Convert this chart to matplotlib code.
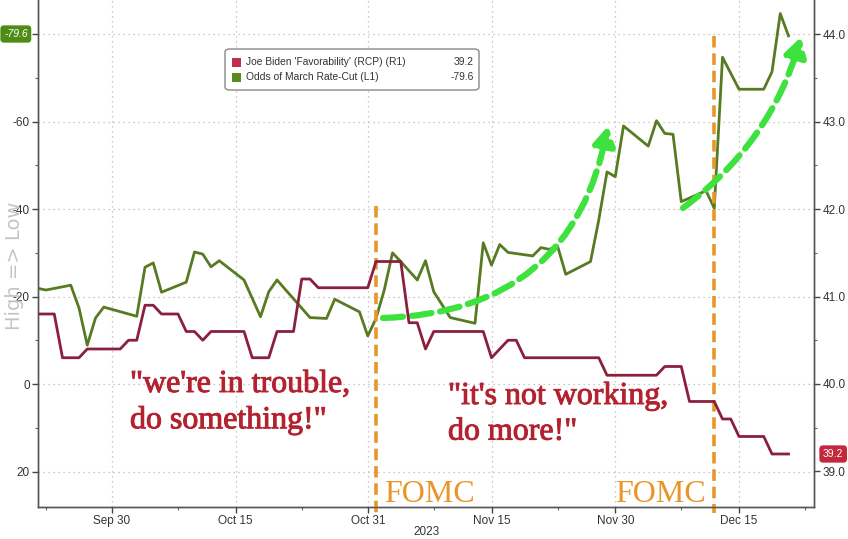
import matplotlib
matplotlib.use("Agg")
import matplotlib.pyplot as plt
import matplotlib.dates as mdates
import matplotlib.patheffects as pe
from matplotlib.patches import FancyArrowPatch, FancyBboxPatch, Rectangle
from matplotlib.ticker import FixedLocator, FuncFormatter
import numpy as np
import pandas as pd

# ---------------- data ----------------
green_dates = ['2023-09-21', '2023-09-22', '2023-09-25', '2023-09-26', '2023-09-27', '2023-09-28',
               '2023-09-29', '2023-10-03', '2023-10-04', '2023-10-05', '2023-10-06', '2023-10-09',
               '2023-10-10', '2023-10-11', '2023-10-12', '2023-10-13', '2023-10-16', '2023-10-18',
               '2023-10-19', '2023-10-20', '2023-10-24', '2023-10-26', '2023-10-27', '2023-10-30',
               '2023-10-31', '2023-11-01', '2023-11-02', '2023-11-03', '2023-11-04', '2023-11-06',
               '2023-11-07', '2023-11-08', '2023-11-10', '2023-11-13', '2023-11-14', '2023-11-15',
               '2023-11-16', '2023-11-17', '2023-11-20', '2023-11-21', '2023-11-22', '2023-11-23',
               '2023-11-24', '2023-11-27', '2023-11-28', '2023-11-29', '2023-11-30', '2023-12-01',
               '2023-12-04', '2023-12-05', '2023-12-06', '2023-12-07', '2023-12-08', '2023-12-11',
               '2023-12-12', '2023-12-13', '2023-12-15', '2023-12-18', '2023-12-19', '2023-12-20',
               '2023-12-21']
green_vals = [-21.9, -21.5, -22.6, -17.4, -8.9, -15.1,
              -17.6, -15.5, -26.7, -27.7, -21.0, -23.3,
              -30.2, -29.7, -26.8, -28.2, -23.8, -15.4,
              -21.1, -23.8, -15.2, -15.0, -19.4, -16.5,
              -11.0, -15.0, -21.5, -30.0, -28.0, -23.8,
              -28.2, -21.1, -15.2, -13.9, -32.3, -27.2,
              -31.9, -30.1, -29.3, -31.2, -30.8, -31.6,
              -25.1, -28.0, -37.5, -48.5, -47.4, -59.0,
              -54.4, -60.2, -57.3, -57.1, -41.7, -44.2,
              -40.2, -74.7, -67.4, -67.4, -71.4, -84.7,
              -79.6]

red_dates = ['2023-09-21', '2023-09-23', '2023-09-24', '2023-09-26', '2023-09-27', '2023-10-01',
             '2023-10-02', '2023-10-03', '2023-10-04', '2023-10-05', '2023-10-06', '2023-10-08',
             '2023-10-09', '2023-10-10', '2023-10-11', '2023-10-12', '2023-10-16', '2023-10-17',
             '2023-10-19', '2023-10-20', '2023-10-22', '2023-10-23', '2023-10-24', '2023-10-25',
             '2023-10-31', '2023-11-01', '2023-11-04', '2023-11-05', '2023-11-06', '2023-11-07',
             '2023-11-08', '2023-11-14', '2023-11-15', '2023-11-17', '2023-11-18', '2023-11-19',
             '2023-11-28', '2023-11-29', '2023-12-05', '2023-12-06', '2023-12-08', '2023-12-09',
             '2023-12-12', '2023-12-13', '2023-12-14', '2023-12-15', '2023-12-18', '2023-12-19',
             '2023-12-21']
red_vals = [40.8, 40.8, 40.3, 40.3, 40.4, 40.4,
            40.5, 40.5, 40.9, 40.9, 40.8, 40.8,
            40.6, 40.6, 40.5, 40.6, 40.6, 40.3,
            40.3, 40.6, 40.6, 41.2, 41.2, 41.1,
            41.1, 41.4, 41.4, 40.7, 40.7, 40.4,
            40.6, 40.6, 40.3, 40.5, 40.5, 40.3,
            40.3, 40.1, 40.1, 40.2, 40.2, 39.8,
            39.8, 39.6, 39.6, 39.4, 39.4, 39.2,
            39.2]

x_tick_dates = ['2023-09-30', '2023-10-15', '2023-10-31', '2023-11-15', '2023-11-30', '2023-12-15']
x_minor_dates = ['2023-09-22', '2023-10-08', '2023-10-23', '2023-11-08', '2023-11-23', '2023-12-08', '2023-12-23']
left_ticks = [-80, -60, -40, -20, 0, 20]
left_tick_labels = ['', '-60', '-40', '-20', '0', '20']   # -80 hidden behind the last-value badge
left_minor = [-70, -50, -30, -10, 10]
right_ticks = [39.0, 40.0, 41.0, 42.0, 43.0, 44.0]
right_minor = [39.5, 40.5, 41.5, 42.5, 43.5]
fomc_dates = ['2023-11-01', '2023-12-12']

legend_labels = ["Joe Biden 'Favorability' (RCP) (R1)", "Odds of March Rate-Cut (L1)"]
legend_values = ["39.2", "-79.6"]

GREEN = '#587a22'
RED = '#8a1f3e'
ORANGE = '#e8962a'
ARROW = '#3ee23e'
TXTRED = '#b3222f'

gd = pd.to_datetime(green_dates)
rd = pd.to_datetime(red_dates)

# ---------------- figure ----------------
W, H = 848, 539
fig = plt.figure(figsize=(W / 100, H / 100), dpi=100)
ax = fig.add_axes([38 / W, 32 / H, 776 / W, 507 / H])
ax2 = ax.twinx()

# grid
for d in x_tick_dates:
    ax.axvline(pd.Timestamp(d), color='#b8b8b8', lw=0.9, ls=(0, (1, 3)), zorder=0)
for v in left_ticks:
    ax.axhline(v, color='#b8b8b8', lw=0.9, ls=(0, (1, 3)), zorder=0)

ax.plot(gd, green_vals, color=GREEN, lw=2.0, zorder=3)
ax2.plot(rd, red_vals, color=RED, lw=2.0, zorder=3)

# ticks
ax.xaxis.set_major_locator(FixedLocator(mdates.date2num(pd.to_datetime(x_tick_dates))))
ax.xaxis.set_minor_locator(FixedLocator(mdates.date2num(pd.to_datetime(x_minor_dates))))
ax.xaxis.set_major_formatter(mdates.DateFormatter('%b %d'))
ax.set_yticks(left_ticks, left_tick_labels)
ax.yaxis.set_minor_locator(FixedLocator(left_minor))
ax2.yaxis.set_major_locator(FixedLocator(right_ticks))
ax2.yaxis.set_minor_locator(FixedLocator(right_minor))
ax2.yaxis.set_major_formatter(FuncFormatter(lambda v, p: f"{v:.1f}"))

# limits (after ticks)
base = mdates.date2num(pd.Timestamp('2023-09-30'))
ax.set_xlim(base - 8.97, base + 85.09)
ax.set_ylim(28.1, -87.8)
ax2.set_ylim(38.594, 44.389)

for a in (ax, ax2):
    a.tick_params(axis='both', which='major', length=4, width=1, color='#444', labelsize=8.5,
                  labelcolor='#333', pad=2)
    a.tick_params(axis='both', which='minor', length=2, width=0.8, color='#666')
    for s in a.spines.values():
        s.set_color('#555')
        s.set_linewidth(1)
    a.spines['top'].set_visible(False)
    for lab in a.get_xticklabels() + a.get_yticklabels():
        lab.set_family('Liberation Sans')
ax.tick_params(axis='x', which='major', pad=1.5)

ax.set_xlabel('2023', fontsize=8.5, color='#333', labelpad=-0.5, family='Liberation Sans')

# y label
fig.text(15 / W, 1 - 266 / H, 'High => Low', rotation=90, ha='center', va='center',
         fontsize=14, color='#c4c4c4', family='DejaVu Sans')

# FOMC lines
fomc_top = [-40.8, -79.6]
for d, top in zip(fomc_dates, fomc_top):
    ax.plot([pd.Timestamp(d), pd.Timestamp(d)], [top, 29.5], color=ORANGE, lw=2.6,
            ls=(0, (3.2, 1.6)), zorder=4, clip_on=False)

ax.text(pd.Timestamp('2023-11-02'), 27.0, 'FOMC', color=ORANGE, fontsize=23,
        family='Liberation Serif', ha='left', va='baseline', zorder=5)
ax.text(pd.Timestamp('2023-12-11'), 27.0, 'FOMC', color=ORANGE, fontsize=23,
        family='Liberation Serif', ha='right', va='baseline', zorder=5)

# annotations
def axfrac(px, py):
    return ((px - 38) / 776, (507 - py) / 507)

heavy = [pe.withStroke(linewidth=0.7, foreground=TXTRED)]
ax.text(*axfrac(130, 370), '"we\'re in trouble,\ndo something!"', transform=ax.transAxes,
        ha='left', va='top', fontsize=23, color=TXTRED, family='Liberation Serif',
        linespacing=1.3, zorder=5, path_effects=heavy)
ax.text(*axfrac(448, 382), '"it\'s not working,\ndo more!"', transform=ax.transAxes,
        ha='left', va='top', fontsize=23, color=TXTRED, family='Liberation Serif',
        linespacing=1.3, zorder=5, path_effects=heavy)

# green dashed arrows
for (p0, p1, rad) in [((383, 318), (608, 126), 0.4), ((683, 208), (801, 37), 0.17)]:
    arr = FancyArrowPatch(axfrac(*p0), axfrac(*p1), transform=ax.transAxes,
                          connectionstyle=f'arc3,rad={rad}',
                          arrowstyle='-|>,head_length=11,head_width=6.5',
                          mutation_scale=1, lw=4.5, ls=(0, (3.2, 1.4)),
                          color=ARROW, shrinkA=0, shrinkB=0, zorder=6, clip_on=False)
    ax.add_patch(arr)

# legend (manual)
lx0, ly0 = axfrac(225, 90)
lx1, ly1 = axfrac(479, 49)
box = FancyBboxPatch((lx0, ly0), lx1 - lx0, ly1 - ly0, boxstyle='round,pad=0,rounding_size=0.006',
                     transform=ax.transAxes, fc='white', ec='#888', lw=1.0, zorder=7)
ax.add_patch(box)
for i, (lab, val, col) in enumerate(zip(legend_labels, legend_values, ['#c0304a', '#5a8a1e'])):
    cy = 62 + 15 * i
    sx, sy = axfrac(232, cy + 4.5)
    ax.add_patch(Rectangle((sx, sy), 9 / 776, 9 / 507, transform=ax.transAxes,
                           fc=col, ec='none', zorder=8))
    ax.text(*axfrac(246, cy), lab, transform=ax.transAxes, ha='left', va='center',
            fontsize=7.4, color='#333', family='Liberation Sans', zorder=8)
    ax.text(*axfrac(474, cy), val, transform=ax.transAxes, ha='right', va='center',
            fontsize=7.4, color='#333', family='Liberation Sans', zorder=8)

# badges
fig.text(4 / W, 1 - 34 / H, '-79.6', ha='left', va='center', fontsize=7.5, color='white',
         style='italic', family='Liberation Sans',
         bbox=dict(boxstyle='round,pad=0.35', fc='#4e8c16', ec='none'))
fig.text(823 / W, 1 - 454 / H, '39.2', ha='left', va='center', fontsize=7.5, color='white',
         family='Liberation Sans',
         bbox=dict(boxstyle='round,pad=0.35', fc='#c4283c', ec='none'))

fig.savefig('out.png', dpi=100)
